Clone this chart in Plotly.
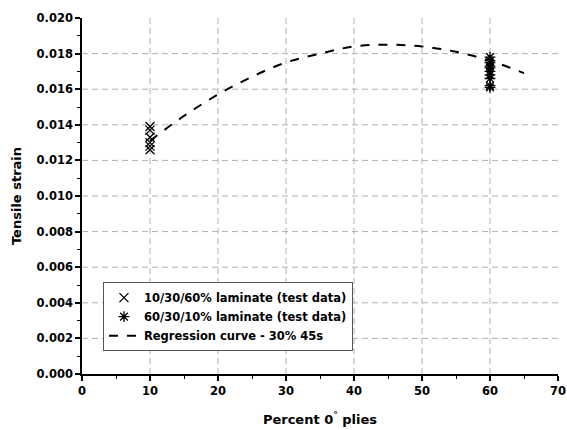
import plotly.graph_objects as go

# Data
x_10 = [10, 10, 10, 10, 10, 10]
y_10 = [0.0139, 0.0137, 0.0133, 0.0130, 0.0128, 0.0126]

x_60 = [60, 60, 60, 60, 60, 60, 60, 60, 60, 60]
y_60 = [0.0178, 0.0176, 0.0175, 0.0173, 0.0172, 0.0170, 0.0168, 0.0166, 0.0162, 0.0161]

reg_x = [10, 15, 20, 25, 30, 35, 40, 45, 50, 55, 60, 65]
reg_y = [0.0131, 0.0145, 0.0157, 0.0167, 0.0175, 0.0180, 0.0184, 0.0185, 0.0184, 0.0181, 0.0176, 0.0169]

x_grid = [10, 20, 30, 40, 50, 60]
y_grid = [0.002, 0.004, 0.006, 0.008, 0.010, 0.012, 0.014, 0.016, 0.018]

FONT = "DejaVu Sans"

fig = go.Figure()
fig.add_trace(go.Scatter(
    x=x_10, y=y_10, mode="markers", name="10/30/60% laminate (test data)",
    marker=dict(symbol="x-thin-open", size=9, color="black", line=dict(width=1.3, color="black")),
))
fig.add_trace(go.Scatter(
    x=x_60, y=y_60, mode="markers", name="60/30/10% laminate (test data)",
    marker=dict(symbol="asterisk-open", size=9, color="black", line=dict(width=1.3, color="black")),
))
fig.add_trace(go.Scatter(
    x=reg_x, y=reg_y, mode="lines", name="Regression curve - 30% 45s",
    line=dict(color="black", width=2, dash="dash", shape="spline"),
))

shapes = []
for gx in x_grid:
    shapes.append(dict(type="line", xref="x", yref="y", x0=gx, x1=gx, y0=0, y1=0.020,
                       line=dict(color="#b0b0b0", width=1, dash="6px,4px"), layer="below"))
for gy in y_grid:
    shapes.append(dict(type="line", xref="x", yref="y", x0=0, x1=70, y0=gy, y1=gy,
                       line=dict(color="#b0b0b0", width=1, dash="6px,4px"), layer="below"))

fig.update_layout(
    width=567, height=430,
    margin=dict(l=82, r=9, t=18, b=56),
    paper_bgcolor="white", plot_bgcolor="white",
    font=dict(family=FONT, size=12, color="black"),
    shapes=shapes,
    showlegend=True,
    legend=dict(
        x=0.044, y=0.258, xanchor="left", yanchor="top",
        bgcolor="white", bordercolor="#555555", borderwidth=1,
        font=dict(family=FONT, size=11.5, color="black", weight="bold"),
        tracegroupgap=0, itemwidth=30,
    ),
    xaxis=dict(
        range=[0, 70], tickvals=[0, 10, 20, 30, 40, 50, 60, 70],
        showgrid=False, zeroline=False, automargin=False,
        showline=True, linecolor="black", linewidth=1.5,
        ticks="outside", ticklen=5, tickwidth=1.5, tickcolor="black",
        minor=dict(dtick=5, ticks="outside", ticklen=3, tickwidth=1.2, tickcolor="black", showgrid=False),
        tickfont=dict(family=FONT, size=11.5, weight="bold"),
        title=dict(text="Percent 0<sup>°</sup> plies", font=dict(family=FONT, size=13, weight="bold"), standoff=18),
    ),
    yaxis=dict(
        range=[0, 0.020], dtick=0.002, tickformat=".3f",
        showgrid=False, zeroline=False, automargin=False,
        showline=True, linecolor="black", linewidth=1.5,
        ticks="outside", ticklen=5, tickwidth=1.5, tickcolor="black",
        minor=dict(dtick=0.001, ticks="outside", ticklen=3, tickwidth=1.2, tickcolor="black", showgrid=False),
        tickfont=dict(family=FONT, size=11.5, weight="bold"),
        title=dict(text="Tensile strain", font=dict(family=FONT, size=13, weight="bold"), standoff=12),
    ),
)

# remove the default page margin so the figure fills the window exactly
fig.write_html(
    "out.html",
    config={"displayModeBar": False},
    post_script="document.body.style.margin='0';document.body.style.overflow='hidden';",
)
